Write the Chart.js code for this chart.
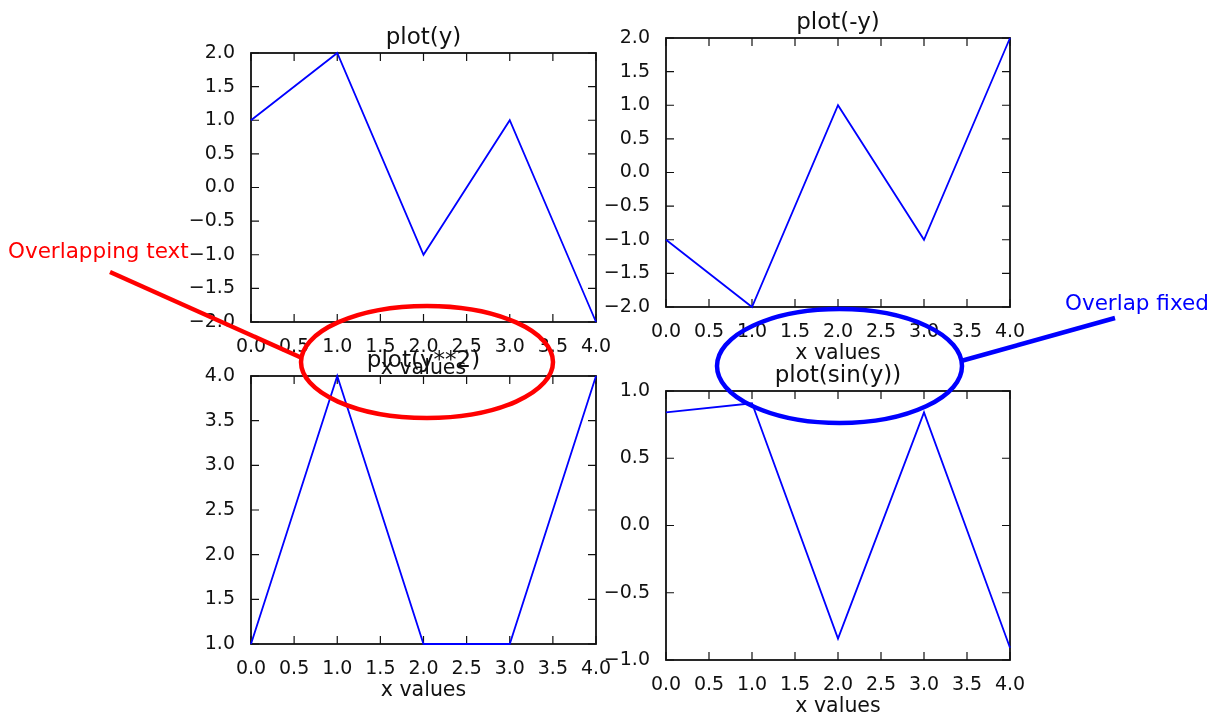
<!DOCTYPE html>
<html><head><meta charset="utf-8">
<script src="https://cdn.jsdelivr.net/npm/chart.js@4"></script>
<style>
html,body{margin:0;padding:0;background:#fff;overflow:hidden;width:1219px;height:716px;position:relative;}
canvas{position:absolute;left:0;top:0;}
svg{position:absolute;left:0;top:0;}
</style></head><body>
<canvas id="c1" width="1219" height="780"></canvas>
<canvas id="c2" width="1219" height="780"></canvas>
<canvas id="c3" width="1219" height="780"></canvas>
<canvas id="c4" width="1219" height="780"></canvas>
<svg width="1219" height="716" xmlns="http://www.w3.org/2000/svg">
  <ellipse cx="427" cy="362" rx="126" ry="56" fill="none" stroke="#ff0000" stroke-width="4.5"/>
  <line x1="110" y1="272" x2="302" y2="358" stroke="#ff0000" stroke-width="4.5"/>
  <text x="8" y="258" fill="#ff0000" font-family="DejaVu Sans" font-size="21.5">Overlapping text</text>
  <ellipse cx="839.5" cy="366" rx="122.5" ry="57" fill="none" stroke="#0000ff" stroke-width="4.5"/>
  <line x1="961" y1="361" x2="1115" y2="318" stroke="#0000ff" stroke-width="4.5"/>
  <text x="1065" y="310" fill="#0000ff" font-family="DejaVu Sans" font-size="21.5">Overlap fixed</text>
</svg>
<script>
// ---- data ----
const xValues = [0, 1, 2, 3, 4];
const yValues = [1, 2, -1, 1, -2];
const negYValues = [-1, -2, 1, -1, 2];
const ySquaredValues = [1, 4, 1, 1, 4];
const sinYValues = [0.841, 0.909, -0.841, 0.841, -0.909];
const plotTitles = ['plot(y)', 'plot(-y)', 'plot(y**2)', 'plot(sin(y))'];
const xAxisLabel = 'x values';
const xRange = [0, 4];
const xTickStep = 0.5;
const yRanges = [[-2, 2], [-2, 2], [1, 4], [-1, 1]];
const yTickStep = 0.5;

// ---- layout ----
const areas = [
  {left: 251, top: 53, right: 596, bottom: 322},
  {left: 666, top: 38, right: 1010, bottom: 307},
  {left: 251, top: 376, right: 596, bottom: 644},
  {left: 666, top: 391, right: 1010, bottom: 660}
];
const CW = 1219, CH = 780, WY = 70, HX = 60;
const INK = '#111111';

function fmt(v) {
  if (Math.abs(v) < 1e-9) v = 0;
  return v.toFixed(1).replace('-', '\u2212');
}

const framePlugin = {
  id: 'frame',
  beforeDatasetsDraw(chart) {
    const {ctx, chartArea: a, scales: {x, y}} = chart;
    ctx.save();
    ctx.strokeStyle = INK;
    ctx.lineWidth = 1.2;
    ctx.beginPath();
    x.ticks.forEach(t => {
      const px = x.getPixelForValue(t.value);
      ctx.moveTo(px, a.bottom); ctx.lineTo(px, a.bottom - 8);
      ctx.moveTo(px, a.top); ctx.lineTo(px, a.top + 8);
    });
    y.ticks.forEach(t => {
      const py = y.getPixelForValue(t.value);
      ctx.moveTo(a.left, py); ctx.lineTo(a.left + 8, py);
      ctx.moveTo(a.right, py); ctx.lineTo(a.right - 8, py);
    });
    ctx.stroke();
    ctx.lineWidth = 1.8;
    ctx.strokeRect(a.left, a.top, a.right - a.left, a.bottom - a.top);
    ctx.restore();
  },
  afterDraw(chart, args, opts) {
    const {ctx, chartArea: a} = chart;
    ctx.save();
    ctx.font = '23px "DejaVu Sans"';
    ctx.fillStyle = INK;
    ctx.textAlign = 'center';
    ctx.textBaseline = 'alphabetic';
    ctx.fillText(opts.text, (a.left + a.right) / 2, a.top - 9);
    ctx.restore();
  }
};

function makeChart(id, values, title, yr, area) {
  return new Chart(document.getElementById(id), {
    type: 'line',
    data: {
      datasets: [{
        data: xValues.map((x, i) => ({x: x, y: values[i]})),
        borderColor: '#0000ff',
        borderWidth: 1.8,
        pointRadius: 0,
        tension: 0,
        fill: false,
        clip: false
      }]
    },
    options: {
      responsive: false,
      animation: false,
      devicePixelRatio: 1,
      events: [],
      layout: {padding: {left: area.left - WY, top: area.top, right: CW - area.right, bottom: CH - area.bottom - HX}},
      plugins: {legend: {display: false}, tooltip: {enabled: false}, frame: {text: title}},
      scales: {
        x: {
          type: 'linear', min: xRange[0], max: xRange[1],
          grid: {display: false}, border: {display: false},
          ticks: {stepSize: xTickStep, padding: 5.8, color: INK, font: {family: 'DejaVu Sans', size: 19},
                  maxRotation: 0, autoSkip: false, callback: fmt},
          title: {display: true, text: xAxisLabel, color: INK, font: {family: 'DejaVu Sans', size: 20.5},
                  padding: {top: 0, bottom: 0.9}},
          afterFit(s) { s.height = HX; }
        },
        y: {
          type: 'linear', min: yr[0], max: yr[1],
          grid: {display: false}, border: {display: false},
          ticks: {stepSize: yTickStep, padding: 8, color: INK, font: {family: 'DejaVu Sans', size: 19},
                  autoSkip: false, callback: fmt},
          afterFit(s) { s.width = WY; }
        }
      }
    },
    plugins: [framePlugin]
  });
}

makeChart('c1', yValues, plotTitles[0], yRanges[0], areas[0]);
makeChart('c2', negYValues, plotTitles[1], yRanges[1], areas[1]);
makeChart('c3', ySquaredValues, plotTitles[2], yRanges[2], areas[2]);
makeChart('c4', sinYValues, plotTitles[3], yRanges[3], areas[3]);
</script>
</body></html>
